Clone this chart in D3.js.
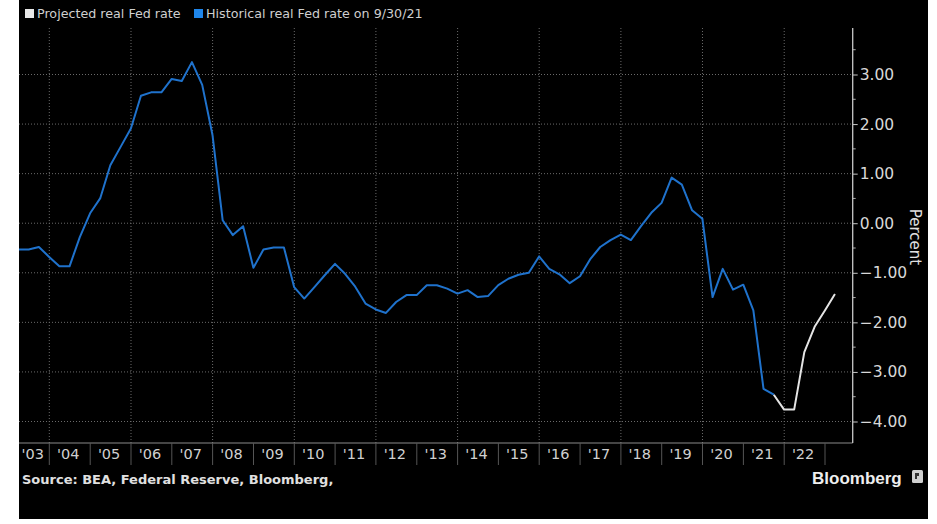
<!DOCTYPE html>
<html>
<head>
<meta charset="utf-8">
<script src="https://cdn.jsdelivr.net/npm/d3@7"></script>
<style>
html, body { margin: 0; padding: 0; background: #fff; }
svg { display: block; }
</style>
</head>
<body>
<svg id="chart" width="937" height="524"></svg>
<script>
// ---- Data (quarterly) ----
const histDates = [
    "2003-03-31", "2003-06-30", "2003-09-30", "2003-12-31",
    "2004-03-31", "2004-06-30", "2004-09-30", "2004-12-31",
    "2005-03-31", "2005-06-30", "2005-09-30", "2005-12-31",
    "2006-03-31", "2006-06-30", "2006-09-30", "2006-12-31",
    "2007-03-31", "2007-06-30", "2007-09-30", "2007-12-31",
    "2008-03-31", "2008-06-30", "2008-09-30", "2008-12-31",
    "2009-03-31", "2009-06-30", "2009-09-30", "2009-12-31",
    "2010-03-31", "2010-06-30", "2010-09-30", "2010-12-31",
    "2011-03-31", "2011-06-30", "2011-09-30", "2011-12-31",
    "2012-03-31", "2012-06-30", "2012-09-30", "2012-12-31",
    "2013-03-31", "2013-06-30", "2013-09-30", "2013-12-31",
    "2014-03-31", "2014-06-30", "2014-09-30", "2014-12-31",
    "2015-03-31", "2015-06-30", "2015-09-30", "2015-12-31",
    "2016-03-31", "2016-06-30", "2016-09-30", "2016-12-31",
    "2017-03-31", "2017-06-30", "2017-09-30", "2017-12-31",
    "2018-03-31", "2018-06-30", "2018-09-30", "2018-12-31",
    "2019-03-31", "2019-06-30", "2019-09-30", "2019-12-31",
    "2020-03-31", "2020-06-30", "2020-09-30", "2020-12-31",
    "2021-03-31", "2021-06-30", "2021-09-30"
];
const histValues = [
    -0.53, -0.53, -0.48, -0.68,
    -0.87, -0.87, -0.28, 0.20,
    0.50, 1.17, 1.54, 1.91,
    2.57, 2.64, 2.64, 2.91,
    2.87, 3.25, 2.79, 1.78,
    0.06, -0.24, -0.06, -0.90,
    -0.53, -0.49, -0.49, -1.29,
    -1.52, -1.29, -1.05, -0.82,
    -1.02, -1.28, -1.62, -1.74,
    -1.81, -1.59, -1.45, -1.45,
    -1.25, -1.25, -1.32, -1.42,
    -1.35, -1.49, -1.47, -1.25,
    -1.12, -1.04, -1.00, -0.67,
    -0.92, -1.03, -1.21, -1.07,
    -0.73, -0.48, -0.34, -0.23,
    -0.34, -0.06, 0.21, 0.41,
    0.92, 0.78, 0.26, 0.09,
    -1.49, -0.92, -1.34, -1.24,
    -1.76, -3.34, -3.46
];
const projDates = ["2021-09-30", "2021-12-31", "2022-03-31", "2022-06-30", "2022-09-30", "2022-12-31", "2023-03-31"];
const projValues = [-3.46, -3.76, -3.76, -2.60, -2.09, -1.76, -1.43];

const yearTicks = [2003, 2004, 2005, 2006, 2007, 2008, 2009, 2010, 2011, 2012, 2013,
                   2014, 2015, 2016, 2017, 2018, 2019, 2020, 2021, 2022, 2023];
const yearLabels = ["'03", "'04", "'05", "'06", "'07", "'08", "'09", "'10", "'11", "'12", "'13",
                    "'14", "'15", "'16", "'17", "'18", "'19", "'20", "'21", "'22", ""];
const gridYears = [2004, 2006, 2008, 2010, 2012, 2014, 2016, 2018, 2020, 2022];
const yTicks = [3, 2, 1, 0, -1, -2, -3, -4];
const yMinorTicks = [3.5, 2.5, 1.5, 0.5, -0.5, -1.5, -2.5, -3.5];

const legendItems = [
    {label: "Projected real Fed rate", color: "#e8e8e8"},
    {label: "Historical real Fed rate on 9/30/21", color: "#1f86ea"}
];

// ---- Layout ----
const plot = {left: 19, right: 852.7, top: 28, bottom: 443};
const parse = d3.timeParse("%Y-%m-%d");
const yr = y => new Date(y, 0, 1);

const svg = d3.select("#chart");

// black panel
svg.append("rect")
    .attr("x", 19).attr("y", 0)
    .attr("width", 909).attr("height", 519)
    .attr("fill", "#000");

const xScale = d3.scaleTime()
    .domain([yr(2004), yr(2023)])
    .range([49.3, 825]);

const yScale = d3.scaleLinear()
    .domain([-4, 3])
    .range([421.5, 74.5]);

svg.append("clipPath").attr("id", "plot-clip")
    .append("rect")
    .attr("x", plot.left).attr("y", plot.top)
    .attr("width", plot.right - plot.left).attr("height", plot.bottom - plot.top);

// horizontal dotted grid
svg.append("g")
    .selectAll("line")
    .data(yTicks)
    .join("line")
    .attr("x1", plot.left).attr("x2", plot.right)
    .attr("y1", d => yScale(d)).attr("y2", d => yScale(d))
    .attr("stroke", "#6a6a6a")
    .attr("stroke-width", 1)
    .attr("stroke-dasharray", "1,2");

// vertical dotted grid
svg.append("g")
    .selectAll("line")
    .data(gridYears)
    .join("line")
    .attr("x1", d => xScale(yr(d))).attr("x2", d => xScale(yr(d)))
    .attr("y1", plot.top).attr("y2", plot.bottom)
    .attr("stroke", "#6a6a6a")
    .attr("stroke-width", 1)
    .attr("stroke-dasharray", "1,2");

// bottom axis line + year separators
svg.append("line")
    .attr("x1", plot.left).attr("x2", plot.right)
    .attr("y1", plot.bottom).attr("y2", plot.bottom)
    .attr("stroke", "#8a8a8a").attr("stroke-width", 1.2);

const sepYears = yearTicks.filter(d => xScale(yr(d)) > plot.left && xScale(yr(d)) < plot.right);
svg.append("g")
    .selectAll("line")
    .data(sepYears)
    .join("line")
    .attr("x1", d => xScale(yr(d))).attr("x2", d => xScale(yr(d)))
    .attr("y1", plot.bottom).attr("y2", plot.bottom + 22)
    .attr("stroke", "#555")
    .attr("stroke-width", 1);

svg.append("g")
    .selectAll("text")
    .data(yearTicks)
    .join("text")
    .attr("x", (d, i) => {
        const a = Math.max(plot.left, xScale(yr(d)));
        const b = Math.min(plot.right, xScale(yr(d + 1)));
        return (a + b) / 2 - 1.5;
    })
    .attr("y", 459)
    .attr("text-anchor", "middle")
    .attr("fill", "#d0d0d0")
    .style("font-family", "'DejaVu Sans', sans-serif")
    .style("font-size", "14.5px")
    .text((d, i) => yearLabels[i]);

// right axis
const yAxis = d3.axisRight(yScale)
    .tickValues(yTicks)
    .tickSize(5)
    .tickPadding(2)
    .tickFormat(d3.format(".2f"));

const yAxisG = svg.append("g")
    .attr("transform", `translate(${plot.right},0)`)
    .call(yAxis);
yAxisG.select(".domain").remove();
yAxisG.selectAll(".tick line").attr("stroke", "#c8c8c8");
yAxisG.selectAll(".tick text")
    .attr("fill", "#d8d8d8")
    .style("font-family", "'DejaVu Sans', sans-serif")
    .style("font-size", "15.5px");

svg.append("g")
    .selectAll("line")
    .data(yMinorTicks)
    .join("line")
    .attr("x1", plot.right).attr("x2", plot.right + 3)
    .attr("y1", d => yScale(d)).attr("y2", d => yScale(d))
    .attr("stroke", "#aaa");

svg.append("line")
    .attr("x1", plot.right).attr("x2", plot.right)
    .attr("y1", plot.top).attr("y2", plot.bottom)
    .attr("stroke", "#c8c8c8").attr("stroke-width", 1.3);

svg.append("text")
    .attr("transform", "translate(910,237) rotate(90)")
    .attr("text-anchor", "middle")
    .attr("fill", "#e0e0e0")
    .style("font-family", "'DejaVu Sans', sans-serif")
    .style("font-size", "15px")
    .text("Percent");

// lines
const line = d3.line()
    .x(d => xScale(d.date))
    .y(d => yScale(d.value));

const hist = histDates.map((d, i) => ({date: parse(d), value: histValues[i]}));
const proj = projDates.map((d, i) => ({date: parse(d), value: projValues[i]}));

const lines = svg.append("g").attr("clip-path", "url(#plot-clip)");
lines.append("path")
    .datum(hist)
    .attr("d", line)
    .attr("fill", "none")
    .attr("stroke", "#1f72cc")
    .attr("stroke-width", 2)
    .attr("stroke-linejoin", "round");
lines.append("path")
    .datum(proj)
    .attr("d", line)
    .attr("fill", "none")
    .attr("stroke", "#e4e4e4")
    .attr("stroke-width", 2)
    .attr("stroke-linejoin", "round");

// legend
const legendX = [25, 194];
const legend = svg.append("g")
    .selectAll("g")
    .data(legendItems)
    .join("g")
    .attr("transform", (d, i) => `translate(${legendX[i]},9)`);
legend.append("rect")
    .attr("width", 9).attr("height", 9)
    .attr("fill", d => d.color);
legend.append("text")
    .attr("x", 12).attr("y", 9)
    .attr("fill", "#cfcfcf")
    .style("font-family", "'DejaVu Sans', sans-serif")
    .style("font-size", "12.7px")
    .text(d => d.label);

// footer
svg.append("text")
    .attr("x", 22).attr("y", 484)
    .attr("fill", "#e0e0e0")
    .style("font-family", "'DejaVu Sans', sans-serif")
    .style("font-weight", "bold")
    .style("font-size", "13px")
    .text("Source: BEA, Federal Reserve, Bloomberg,");

svg.append("text")
    .attr("x", 812).attr("y", 484)
    .attr("fill", "#eeeeee")
    .style("font-family", "'Liberation Sans', sans-serif")
    .style("font-weight", "bold")
    .style("font-size", "17px")
    .text("Bloomberg");

svg.append("rect")
    .attr("x", 912).attr("y", 470)
    .attr("width", 11).attr("height", 13)
    .attr("rx", 1.5)
    .attr("fill", "#d0d0d0");
svg.append("path")
    .attr("d", "M915,473 h4 v3 h-2 v3 h-2 z")
    .attr("fill", "#333");
</script>
</body>
</html>
